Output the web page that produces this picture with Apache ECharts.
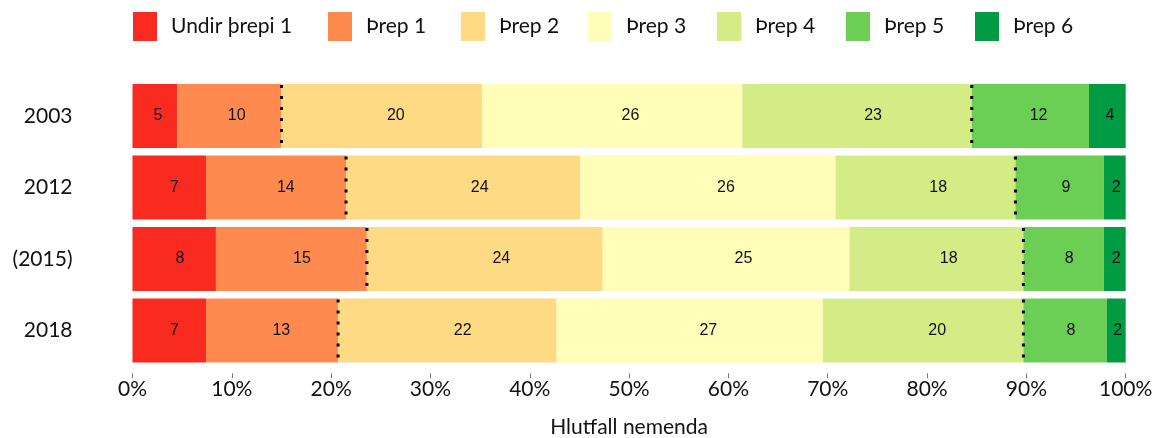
<!DOCTYPE html>
<html>
<head>
<meta charset="utf-8">
<script src="https://cdn.jsdelivr.net/npm/echarts@6/dist/echarts.min.js"></script>
<style>
html,body{margin:0;padding:0;background:#fff;}
#c{width:1157px;height:438px;}
</style>
</head>
<body>
<div id="c"></div>
<script>
const categories = ['2003', '2012', '(2015)', '2018'];
const seriesNames = ['Undir þrepi 1', 'Þrep 1', 'Þrep 2', 'Þrep 3', 'Þrep 4', 'Þrep 5', 'Þrep 6'];
const undirThrepi1 = [4.5, 7.4, 8.4, 7.4];
const threp1 = [10.5, 14.1, 15.2, 13.3];
const threp2 = [20.2, 23.6, 23.75, 22.0];
const threp3 = [26.2, 25.7, 24.85, 26.8];
const threp4 = [23.1, 18.1, 17.5, 20.2];
const threp5 = [11.8, 8.9, 8.1, 8.4];
const threp6 = [3.7, 2.2, 2.2, 1.9];
const undirLabels = [5, 7, 8, 7];
const threp1Labels = [10, 14, 15, 13];
const threp2Labels = [20, 24, 24, 22];
const threp3Labels = [26, 26, 25, 27];
const threp4Labels = [23, 18, 18, 20];
const threp5Labels = [12, 9, 8, 8];
const threp6Labels = [4, 2, 2, 2];
const xTicks = [0, 10, 20, 30, 40, 50, 60, 70, 80, 90, 100];
const xAxisTitle = 'Hlutfall nemenda';

const values = [undirThrepi1, threp1, threp2, threp3, threp4, threp5, threp6];
const labels = [undirLabels, threp1Labels, threp2Labels, threp3Labels, threp4Labels, threp5Labels, threp6Labels];
const colors = ['#F92A1F', '#FE8A50', '#FEDA84', '#FFFDB8', '#D3EC86', '#6CCF55', '#009B43'];
const legendLeft = [128, 323, 456, 583, 712, 841, 970];
const FONT = 'Lato';

// dotted separators after Þrep 1 and after Þrep 4
function cumulative(upto) {
  return categories.map((c, i) => {
    let s = 0;
    for (let k = 0; k <= upto; k++) s += values[k][i];
    return [s, i];
  });
}
const dotData = cumulative(1).concat(cumulative(4));

const series = seriesNames.map((name, k) => ({
  name: name,
  type: 'bar',
  stack: 'total',
  barCategoryGap: '10.5%',
  itemStyle: { color: colors[k] },
  label: {
    show: true,
    position: ['57%', '50%'],
    align: 'center',
    verticalAlign: 'middle',
    color: '#111',
    fontFamily: 'Liberation Sans',
    fontSize: 16,
    formatter: p => String(labels[k][p.dataIndex])
  },
  emphasis: { disabled: true },
  data: values[k]
}));

series.push({
  type: 'custom',
  name: 'dots',
  silent: true,
  z: 10,
  renderItem: function (params, api) {
    const p = api.coord([api.value(0), api.value(1)]);
    const h = api.size([0, 1])[1] * 0.895;
    return {
      type: 'line',
      shape: { x1: p[0], y1: p[1] - h / 2 + 1, x2: p[0], y2: p[1] + h / 2 },
      style: { stroke: '#000', lineWidth: 3, lineDash: [3, 8], lineCap: 'butt' }
    };
  },
  encode: { x: 0, y: 1 },
  data: dotData
});

const legends = seriesNames.map((name, k) => ({
  data: [name],
  left: legendLeft[k],
  top: 7,
  itemWidth: 24,
  itemHeight: 29,
  icon: 'rect',
  selectedMode: false,
  textStyle: { fontFamily: FONT, fontSize: 21, color: '#111', padding: [0, 0, 0, 9] }
}));

const chart = echarts.init(document.getElementById('c'), null, { renderer: 'canvas' });
chart.setOption({
  animation: false,
  color: colors,
  legend: legends,
  grid: { left: 132.5, right: 31.3, top: 80.25, bottom: 71.75, containLabel: false, outerBoundsMode: 'none' },
  xAxis: {
    type: 'value',
    min: xTicks[0],
    max: xTicks[xTicks.length - 1],
    interval: xTicks[1] - xTicks[0],
    offset: 7,
    axisLine: { show: false },
    axisTick: { show: true, length: 5, lineStyle: { color: '#777', width: 1 } },
    splitLine: { show: false },
    axisLabel: { fontFamily: FONT, fontSize: 21, color: '#111', margin: 5, formatter: '{value}%' },
    name: xAxisTitle,
    nameLocation: 'middle',
    nameGap: 43,
    nameTextStyle: { fontFamily: FONT, fontSize: 21, color: '#111' }
  },
  yAxis: {
    type: 'category',
    inverse: true,
    data: categories,
    axisLine: { show: false },
    axisTick: { show: false },
    axisLabel: { fontFamily: FONT, fontSize: 21, color: '#111', margin: 60 }
  },
  series: series
});
</script>
</body>
</html>
